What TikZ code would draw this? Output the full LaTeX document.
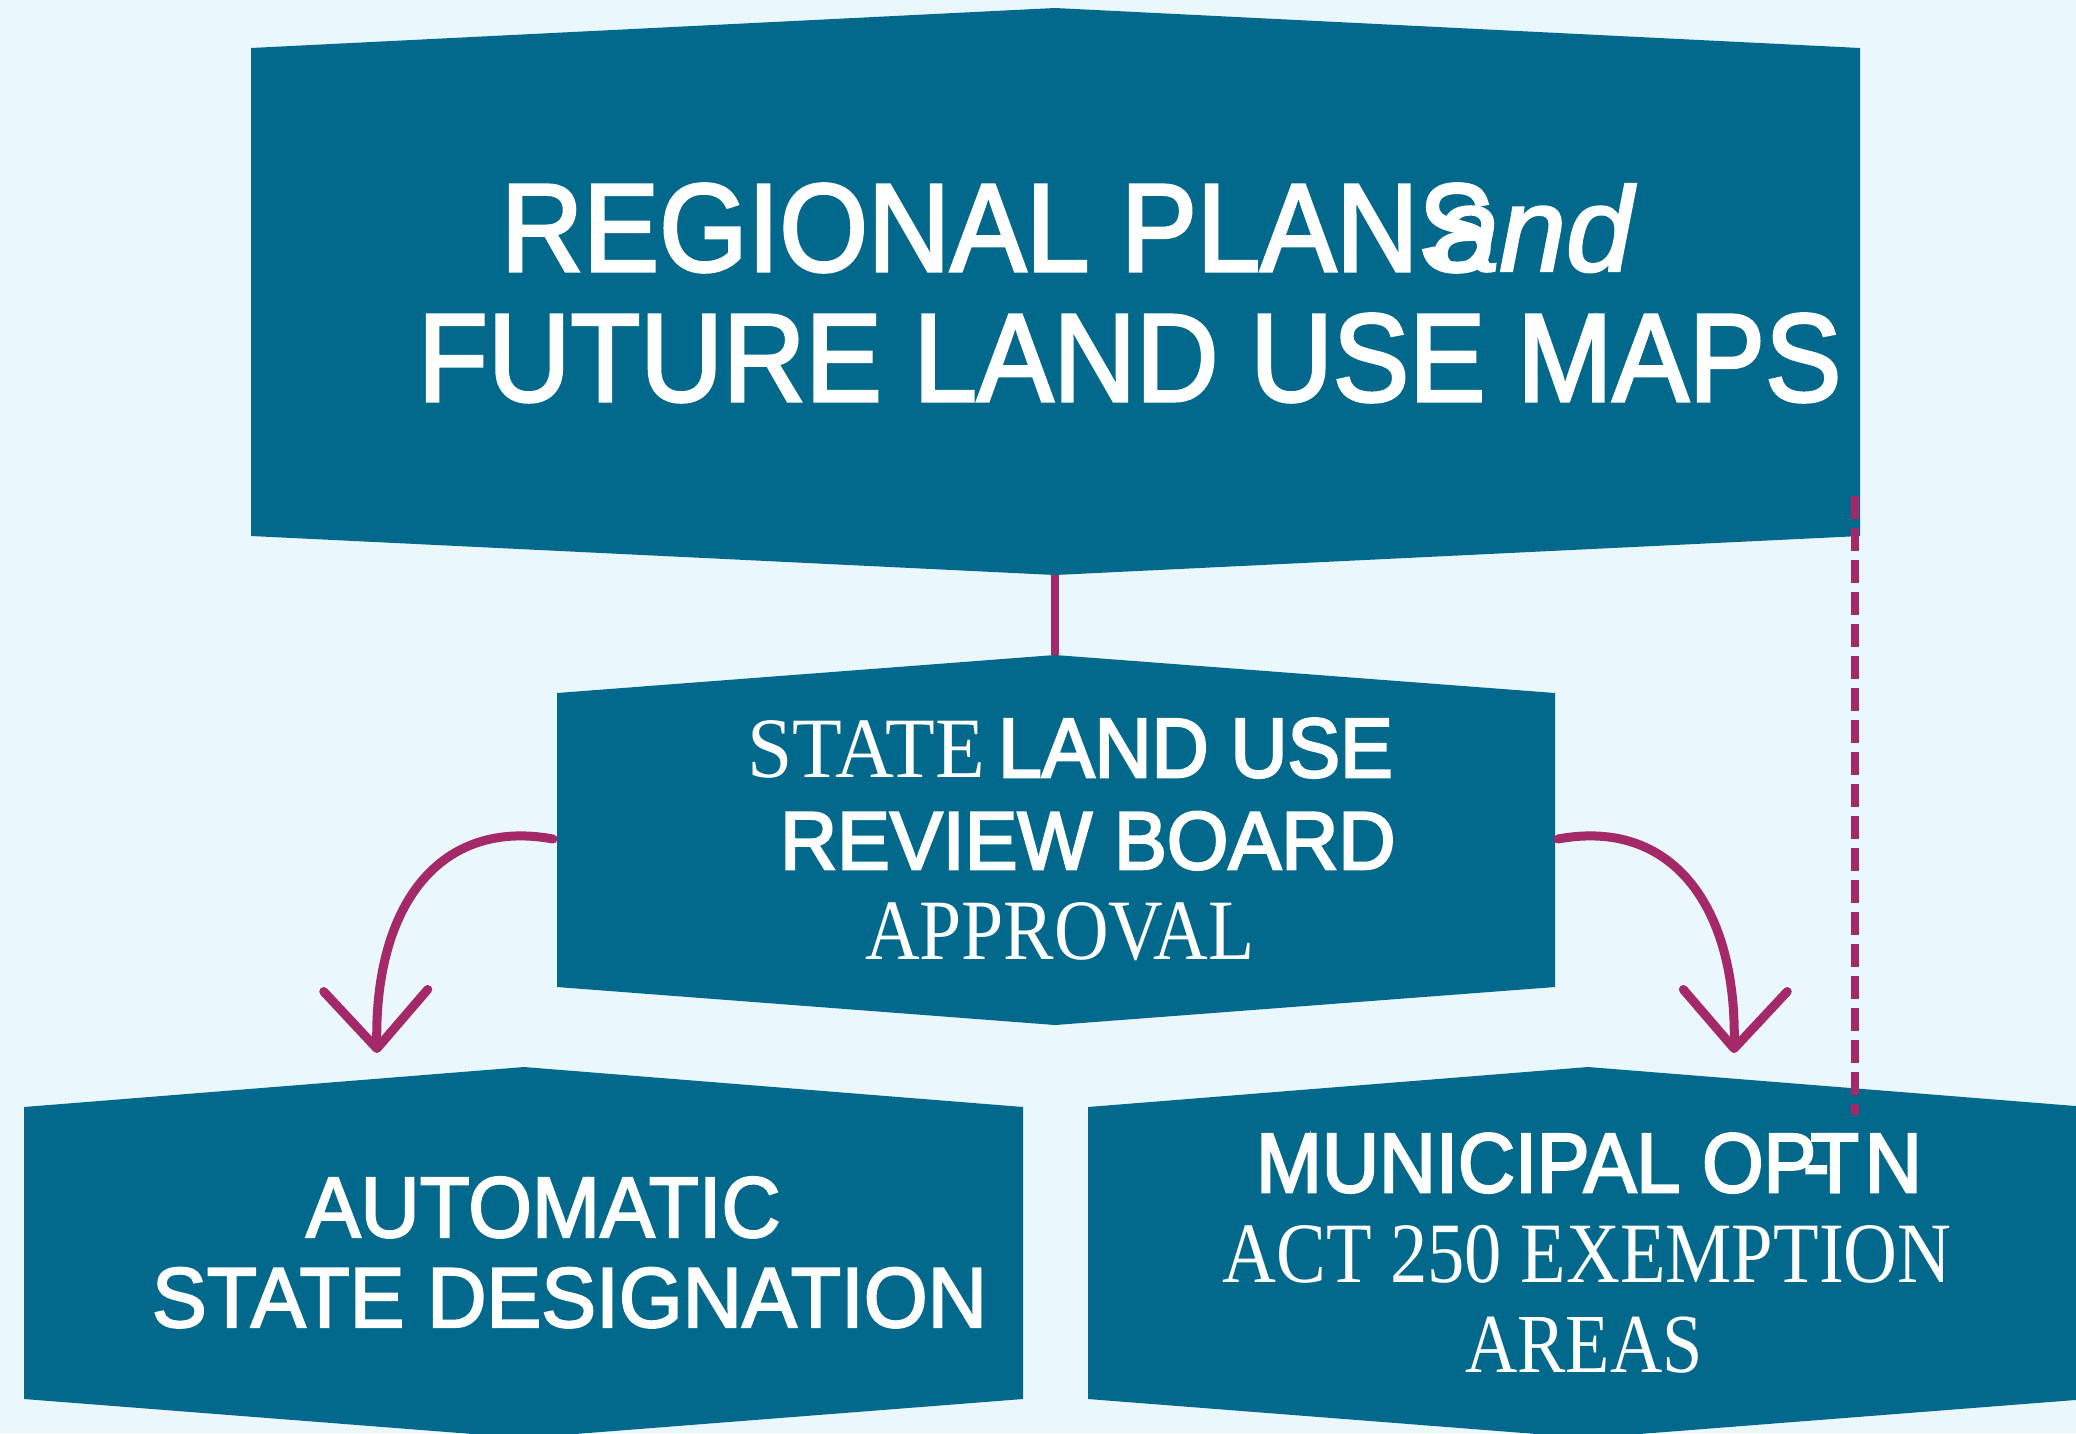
\documentclass[tikz,border=0pt]{standalone}
\usepackage{fontspec}
\usepackage{graphicx}
\setmainfont{Liberation Sans}
\newfontfamily\sansf[FakeBold=2.5]{Liberation Sans}
\newfontfamily\sansh[FakeBold=3.0]{Liberation Sans}
\newfontfamily\sansit[FakeBold=2]{Liberation Sans Italic}
\newfontfamily\seriff{Liberation Serif}
\usetikzlibrary{arrows.meta}

\definecolor{pagebg}{RGB}{234,247,252}
\definecolor{boxblue}{RGB}{2,104,140}
\definecolor{linkmag}{RGB}{163,41,104}

% squeezed line of text: #1 = font size, #2 = horizontal factor, #3 = text
\newcommand\squeezed[3]{\fontsize{#1pt}{#1pt}\selectfont\scalebox{#2}[1]{#3}}

\tikzset{
  panel/.style={fill=boxblue, draw=none},
  label/.style={text=white, inner sep=0pt, outer sep=0pt},
  linkline/.style={draw=linkmag, line width=8pt},
  bendarrow/.style={draw=linkmag, line width=9pt, line cap=round,
    -{Straight Barb[length=58pt, width=104pt, round]}},
  optline/.style={draw=linkmag, line width=8pt, dash pattern=on 23pt off 9pt},
}

\begin{document}
\begin{tikzpicture}[x=1pt, y=-1pt]
  \useasboundingbox (0,0) rectangle (2076,1433);
  \fill[pagebg] (0,0) rectangle (2076,1433);

  % ---- panels (flat sides, pointed top and bottom) ----
  \path[panel] (251,48) -- (1055,8) -- (1860,48) -- (1860,536)
        -- (1055,575) -- (251,536) -- cycle;
  \path[panel] (557,693) -- (1055,655) -- (1555,693) -- (1555,987)
        -- (1055,1025) -- (557,987) -- cycle;
  \path[panel] (24,1107) -- (524,1067) -- (1023,1107) -- (1023,1399)
        -- (524,1438) -- (24,1399) -- cycle;
  \path[panel] (1088,1107) -- (1588,1067) -- (2088,1107) -- (2088,1399)
        -- (1588,1438) -- (1088,1399) -- cycle;

  % ---- anchor points used by the connectors ----
  \coordinate (plans-bottom) at (1055,575);
  \coordinate (board-top)    at (1055,655);
  \coordinate (board-west)   at (553,839);
  \coordinate (board-east)   at (1558,839);
  \coordinate (auto-top)     at (377,1053);
  \coordinate (optin-top)    at (1734,1053);
  \coordinate (plans-edge)   at (1855,496);
  \coordinate (optin-edge)   at (1855,1115);

  % ---- texts ----
  \node[label, anchor=base west] (plans1) at (501,271)
    {\sansf\squeezed{125}{0.911}{REGIONAL PLANS}\kern-62pt{\sansit\fontsize{120pt}{120pt}\selectfont and}};
  \node[label, anchor=base west] (plans2) at (418,401)
    {\sansf\squeezed{125}{0.915}{FUTURE LAND USE MAPS}};

  \node[label, anchor=base west] (board1a) at (747,777)
    {\seriff\squeezed{86}{0.947}{STATE}};
  \node[label, anchor=base west] (board1b) at (998,777)
    {\sansh\squeezed{84}{0.94}{LAND USE}};
  \node[label, anchor=base west] (board2) at (780,869)
    {\sansh\squeezed{82}{0.965}{REVIEW BOARD}};
  \node[label, anchor=base west] (board3) at (865,959)
    {\seriff\squeezed{86}{0.88}{APPROVAL}};

  \node[label, anchor=base west] (auto1) at (306,1237)
    {\sansf\squeezed{86}{0.952}{AUTOMATIC}};
  \node[label, anchor=base west] (auto2) at (152,1327)
    {\sansf\squeezed{85}{0.966}{STATE DESIGNATION}};

  \node[label, anchor=base] (optin1) at (1589,1192)
    {\sansh\squeezed{84}{0.94}{MUNICIPAL OP\kern-14pt-\kern-20pt T\kern-37pt I\kern20pt N}};
  \node[label, anchor=base] (optin2) at (1587,1282)
    {\seriff\squeezed{86}{0.867}{ACT 250 EXEMPTION}};
  \node[label, anchor=base] (optin3) at (1584,1372)
    {\seriff\squeezed{84}{0.862}{AREAS}};

  % ---- connectors ----
  \draw[linkline] (plans-bottom) -- (board-top);
  \draw[bendarrow] (board-west) .. controls (440,818) and (374,905) .. (auto-top);
  \draw[bendarrow] (board-east) .. controls (1671,818) and (1737,905) .. (optin-top);
  \draw[optline] (plans-edge) -- (optin-edge);
\end{tikzpicture}
\end{document}
